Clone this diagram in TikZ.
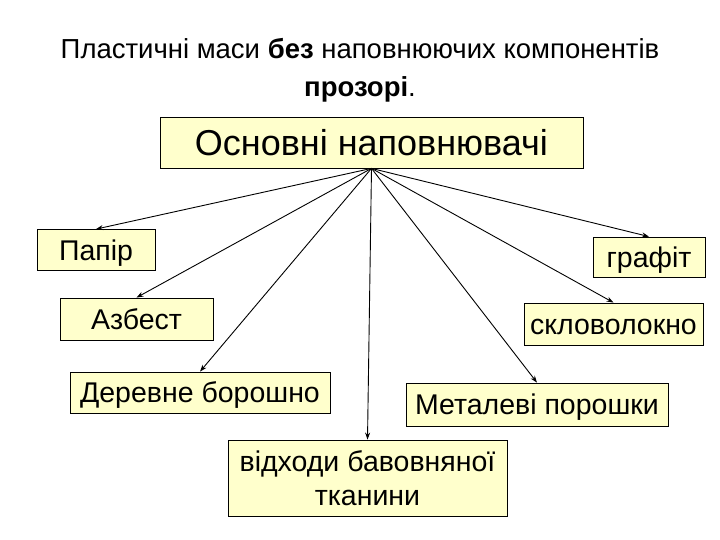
\documentclass[tikz,border=0pt]{standalone}
\usepackage{fontspec}
\setmainfont{Liberation Sans}
\usetikzlibrary{arrows.meta}
\definecolor{boxfill}{HTML}{FFFFCC}
\tikzset{
  box/.style={draw=black, line width=0.8pt, fill=boxfill, inner sep=0pt, align=center,
    font=\fontsize{28.5}{34}\selectfont, text height=20pt, text depth=0pt},
  conn/.style={line width=0.9pt, -{Stealth[length=7pt,width=5pt]}}
}
\begin{document}
\begin{tikzpicture}[x=1pt,y=-1pt]
\useasboundingbox (0,0) rectangle (720,540);
\node (title) at (360,70) [align=center, font=\fontsize{27.5}{38}\selectfont]
  {Пластичні маси \textbf{без} наповнюючих компонентів\\\textbf{прозорі}.};
\node (main) at (371.5,142.5) [box, minimum width=423pt, minimum height=51pt,
  font=\fontsize{36}{40}\selectfont, text height=27pt] {Основні наповнювачі};
\node (papir) at (96,250) [box, minimum width=118pt, minimum height=41pt] {Папір};
\node (azbest) at (136.5,319) [box, minimum width=153pt, minimum height=42pt] {Азбест};
\node (derevo) at (200,392.5) [box, minimum width=260pt, minimum height=41pt] {Деревне борошно};
\node (vidkh) at (367.5,478) [box, minimum width=279pt, minimum height=76pt, text height=55pt] {відходи бавовняної\\тканини};
\node (metal) at (537,404.5) [box, minimum width=262pt, minimum height=43pt] {Металеві порошки};
\node (sklo) at (613.5,324) [box, minimum width=179pt, minimum height=42pt] {скловолокно};
\node (grafit) at (649,257) [box, minimum width=112pt, minimum height=40pt] {графіт};
\coordinate (hub) at (main.south);
\foreach \t in {papir,azbest,derevo,vidkh,metal,sklo,grafit}
  \draw[conn] (hub) -- (\t.north);
\end{tikzpicture}
\end{document}
